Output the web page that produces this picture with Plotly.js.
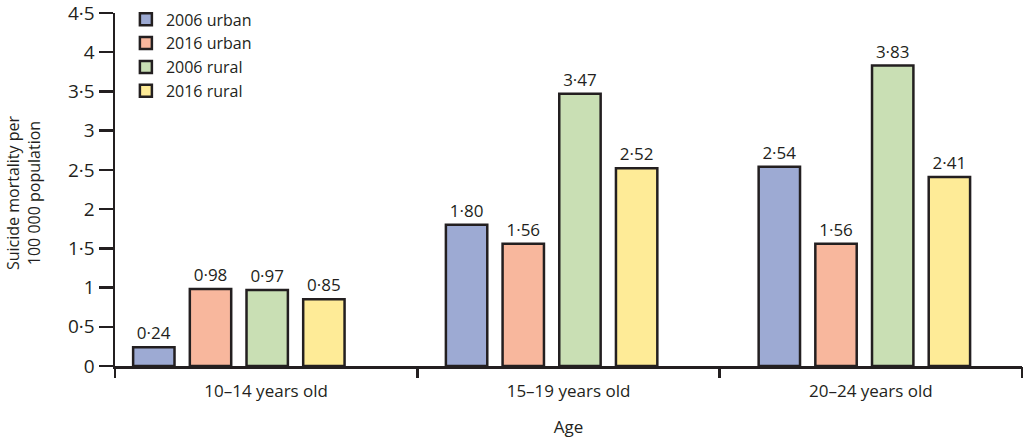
<!DOCTYPE html>
<html>
<head>
<meta charset="utf-8">
<script src="https://cdn.plot.ly/plotly-3.0.1.min.js"></script>
<style>
  html, body { margin: 0; padding: 0; background: #fff; }
  #plotArea { width: 1024px; height: 439px; }
</style>
</head>
<body>
<div id="plotArea"></div>
<script>
// age groups on the x axis
var ageGroups = ['10–14 years old', '15–19 years old', '20–24 years old'];

// suicide mortality per 100 000 population
var urban2006 = [0.24, 1.80, 2.54];
var urban2016 = [0.98, 1.56, 1.56];
var rural2006 = [0.97, 3.47, 3.83];
var rural2016 = [0.85, 2.52, 2.41];

var seriesNames = ['2006 urban', '2016 urban', '2006 rural', '2016 rural'];
var seriesColors = ['#9daad3', '#f8b79d', '#c9dfb4', '#feeb97'];

var yTicks = [0, 0.5, 1, 1.5, 2, 2.5, 3, 3.5, 4, 4.5];

// Lancet style decimal point
function dot(v, digits) {
  var s = digits == null ? String(v) : v.toFixed(digits);
  return s.replace('.', '·');
}

var font = 'Open Sans, Lato, sans-serif';
var ink = '#231f20';

var allSeries = [urban2006, urban2016, rural2006, rural2016];
var data = allSeries.map(function (vals, i) {
  return {
    type: 'bar',
    name: seriesNames[i],
    x: ageGroups,
    y: vals,
    text: vals.map(function (v) { return dot(v, 2); }),
    textposition: 'outside',
    textfont: {family: font, size: 17, color: ink},
    cliponaxis: false,
    marker: {color: seriesColors[i], line: {color: ink, width: 2.5}},
    hoverinfo: 'x+y+name'
  };
});

// empty helper trace so the label axis gets its categories
data.push({
  type: 'scatter',
  mode: 'markers',
  xaxis: 'x2',
  yaxis: 'y',
  x: ageGroups,
  y: ageGroups.map(function () { return null; }),
  marker: {opacity: 0},
  showlegend: false,
  hoverinfo: 'skip'
});

var layout = {
  width: 1024,
  height: 439,
  margin: {l: 115, r: 2, t: 9, b: 73},
  paper_bgcolor: '#fff',
  plot_bgcolor: '#fff',
  font: {family: font, color: ink, size: 17},
  barmode: 'group',
  bargap: 0.275,
  bargroupgap: 0.27,
  showlegend: true,
  legend: {
    x: 0.012, y: 1.03, xanchor: 'left', yanchor: 'top',
    bgcolor: 'rgba(0,0,0,0)',
    font: {family: font, size: 16, color: ink},
    tracegroupgap: 0
  },
  // bars sit on this axis
  xaxis: {
    type: 'category',
    range: [-0.396, 2.504],
    showticklabels: false,
    ticks: '',
    showgrid: false,
    zeroline: false,
    showline: true,
    linecolor: ink,
    linewidth: 2.5,
    automargin: false,
    fixedrange: true
  },
  // labels and boundary ticks for the age groups
  xaxis2: {
    overlaying: 'x',
    anchor: 'y',
    side: 'bottom',
    type: 'category',
    categoryarray: ageGroups,
    range: [-0.5, 2.5],
    ticks: 'outside',
    tickson: 'boundaries',
    ticklen: 11,
    tickwidth: 2.5,
    tickcolor: ink,
    ticklabelstandoff: 13,
    ticklabeloverflow: 'allow',
    tickfont: {family: font, size: 17, color: ink},
    showgrid: false,
    zeroline: false,
    showline: false,
    automargin: false,
    title: {text: 'Age', font: {family: font, size: 17, color: ink}, standoff: 20},
    fixedrange: true
  },
  yaxis: {
    range: [0, 4.5],
    tickmode: 'array',
    tickvals: yTicks,
    ticktext: yTicks.map(function (v) { return dot(v); }),
    ticks: 'outside',
    ticklen: 14,
    tickwidth: 2.5,
    tickcolor: ink,
    ticklabeloverflow: 'allow',
    tickfont: {family: font, size: 19, color: ink},
    showgrid: false,
    zeroline: false,
    showline: true,
    linecolor: ink,
    linewidth: 2.5,
    automargin: false,
    fixedrange: true
  },
  annotations: [{
    text: 'Suicide mortality per<br>100 000 population',
    xref: 'paper', yref: 'paper',
    x: -0.1014, y: 0.49,
    xanchor: 'center', yanchor: 'middle',
    textangle: -90,
    showarrow: false,
    font: {family: font, size: 16, color: ink}
  }]
};

Plotly.newPlot('plotArea', data, layout, {displayModeBar: false, staticPlot: true});
</script>
</body>
</html>
